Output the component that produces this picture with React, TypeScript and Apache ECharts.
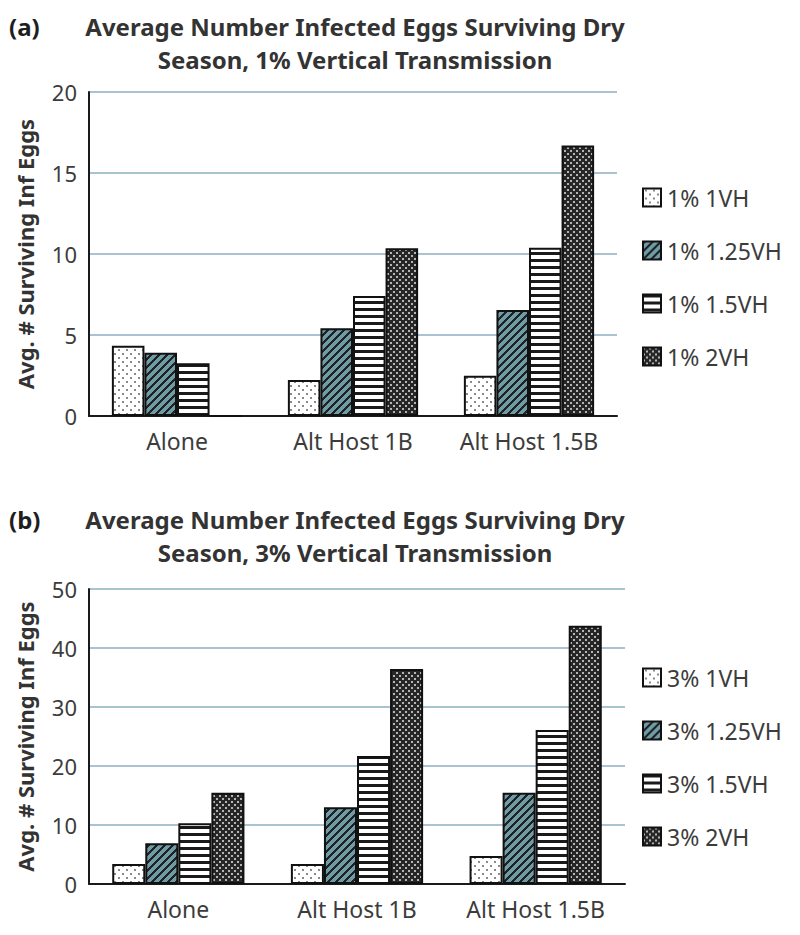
import React, { useEffect, useRef } from 'react';
import * as echarts from 'echarts';

const categories = ['Alone', 'Alt Host 1B', 'Alt Host 1.5B'];

const namesA = ['1% 1VH', '1% 1.25VH', '1% 1.5VH', '1% 2VH'];
const namesB = ['3% 1VH', '3% 1.25VH', '3% 1.5VH', '3% 2VH'];

// Panel (a): 1% vertical transmission
const a1VH = [4.34, 2.22, 2.49];
const a125VH = [3.91, 5.41, 6.54];
const a15VH = [3.25, 7.41, 10.39];
const a2VH = [0, 10.35, 16.69];

// Panel (b): 3% vertical transmission
const b1VH = [3.39, 3.39, 4.75];
const b125VH = [6.89, 13.0, 15.48];
const b15VH = [10.28, 21.7, 26.1];
const b2VH = [15.48, 36.44, 43.78];

const titleA = 'Average Number Infected Eggs Surviving Dry\nSeason, 1% Vertical Transmission';
const titleB = 'Average Number Infected Eggs Surviving Dry\nSeason, 3% Vertical Transmission';
const yAxisName = 'Avg. # Surviving Inf Eggs';

const FONT = '"Noto Sans", "Open Sans", sans-serif';
const TEXT = '#3c3c3c';

function makeTile(w: number, h: number, fn: (x: number, y: number) => string) {
  const c = document.createElement('canvas');
  c.width = w;
  c.height = h;
  const ctx = c.getContext('2d')!;
  for (let y = 0; y < h; y++) {
    for (let x = 0; x < w; x++) {
      ctx.fillStyle = fn(x, y);
      ctx.fillRect(x, y, 1, 1);
    }
  }
  return c;
}

function makePatterns() {
  const dots = makeTile(8, 8, (x, y) => {
    if ((x === 2 || x === 3) && (y === 1 || y === 2)) return '#8a8a8a';
    if ((x === 6 || x === 7) && (y === 5 || y === 6)) return '#8a8a8a';
    return '#ffffff';
  });
  const diag = makeTile(8, 8, (x, y) => (((x + y) % 8) < 3 ? '#1e2224' : '#6f9ca4'));
  const horiz = makeTile(4, 7, (_x, y) => (y < 3 ? '#1a1a1a' : '#ffffff'));
  const check = makeTile(6, 6, (x, y) => {
    const a = x < 2 && y < 2;
    const b = x >= 3 && x < 5 && y >= 3 && y < 5;
    return a || b ? '#b4b4b4' : '#262626';
  });
  return [dots, diag, horiz, check].map((img) => ({ image: img, repeat: 'repeat' }));
}

export default function App() {
  const ref = useRef<HTMLDivElement>(null);

  useEffect(() => {
    if (!ref.current) return;
    const chart = echarts.init(ref.current, undefined, { renderer: 'svg' });
    const patterns = makePatterns();

    const mkSeries = (names: string[], data: number[][], idx: number) =>
      names.map((n, i) => ({
        name: n,
        type: 'bar',
        xAxisIndex: idx,
        yAxisIndex: idx,
        data: data[i],
        barGap: '0%',
        barCategoryGap: '26%',
        itemStyle: { color: patterns[i], borderColor: '#111111', borderWidth: 2 },
        emphasis: { disabled: true },
      }));

    const xAxisBase = (gridIndex: number) => ({
      type: 'category',
      gridIndex,
      data: categories,
      axisTick: { show: false },
      axisLine: { lineStyle: { color: '#1a1a1a', width: 2 } },
      axisLabel: { interval: 0, fontSize: 23, color: TEXT, fontFamily: FONT, margin: 13 },
    });

    const yAxisBase = (gridIndex: number, max: number, interval: number) => ({
      type: 'value',
      gridIndex,
      min: 0,
      max,
      interval,
      name: yAxisName,
      nameLocation: 'middle',
      nameGap: 53,
      nameRotate: 90,
      nameTextStyle: { fontSize: 22, fontWeight: 'bold', color: '#333333', fontFamily: FONT },
      axisLine: { show: true, lineStyle: { color: '#1a1a1a', width: 2 } },
      axisTick: { show: false },
      axisLabel: { fontSize: 22, color: TEXT, fontFamily: FONT, margin: 12 },
      splitLine: { show: true, lineStyle: { color: '#a9c3d3', width: 2 } },
    });

    const legendBase = (names: string[], top: number) => ({
      data: names,
      orient: 'vertical',
      left: 637,
      top,
      icon: 'rect',
      itemWidth: 18,
      itemHeight: 18,
      itemGap: 30,
      selectedMode: false,
      textStyle: { fontSize: 23, color: TEXT, fontFamily: FONT, lineHeight: 22, padding: [0, 0, 0, 1] },
    });

    const txt = (text: string, x: number, y: number, align: string, size: number, color: string) => ({
      type: 'text',
      x,
      y,
      style: {
        text,
        align,
        textAlign: align,
        verticalAlign: 'top',
        textVerticalAlign: 'top',
        fontSize: size,
        fontWeight: 'bold',
        fontFamily: FONT,
        lineHeight: 33,
        fill: color,
      },
    });

    chart.setOption({
      animation: false,
      backgroundColor: '#ffffff',
      grid: [
        { left: 89, top: 92, width: 528, height: 324 },
        { left: 89, top: 589, width: 536, height: 295 },
      ],
      xAxis: [xAxisBase(0), xAxisBase(1)],
      yAxis: [yAxisBase(0, 20, 5), yAxisBase(1, 50, 10)],
      legend: [legendBase(namesA, 181), legendBase(namesB, 661)],
      graphic: [
        txt('(a)', 9, 10, 'left', 24, '#1e1e1e'),
        txt(titleA, 355, 10, 'center', 24, '#333333'),
        txt('(b)', 9, 503, 'left', 24, '#1e1e1e'),
        txt(titleB, 355, 503, 'center', 24, '#333333'),
      ],
      series: [
        ...mkSeries(namesA, [a1VH, a125VH, a15VH, a2VH], 0),
        ...mkSeries(namesB, [b1VH, b125VH, b15VH, b2VH], 1),
      ],
    } as any);

    return () => chart.dispose();
  }, []);

  return (
    <div
      ref={ref}
      style={{ position: 'absolute', left: 0, top: 0, width: 800, height: 935, background: '#fff' }}
    />
  );
}
